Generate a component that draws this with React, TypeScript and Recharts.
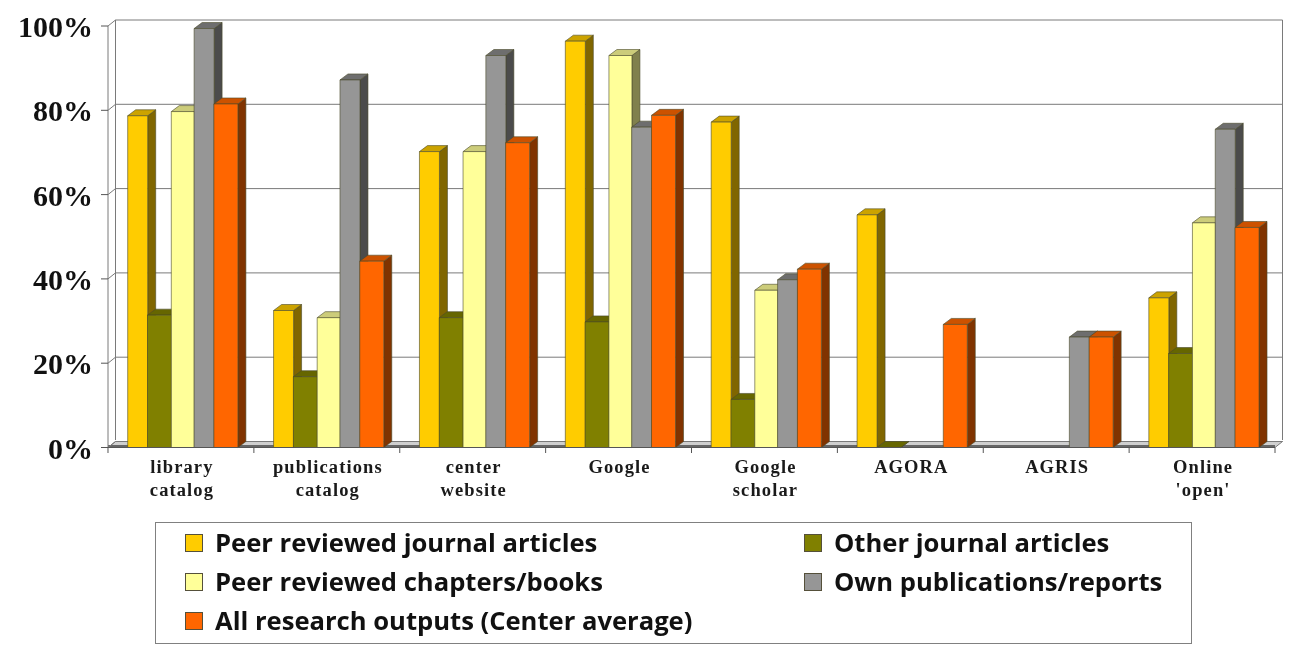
import React from "react";
import { Bar, BarChart, CartesianGrid, Legend, XAxis, YAxis } from "recharts";

const categories = [
  "library\ncatalog",
  "publications\ncatalog",
  "center\nwebsite",
  "Google",
  "Google\nscholar",
  "AGORA",
  "AGRIS",
  "Online\n'open'",
];

// null = no bar drawn at all, 0 = just a flat lid on the floor
const peerArticles = [78.7, 32.5, 70.2, 96.4, 77.2, 55.2, null, 35.5];
const otherArticles = [31.4, 16.8, 30.8, 29.8, 11.4, 0, null, 22.3];
const peerChapters = [79.7, 30.8, 70.2, 93, 37.3, null, null, 53.3];
const ownReports = [99.4, 87.2, 93, 76, 39.8, null, 26.2, 75.5];
const allOutputs = [81.5, 44.2, 72.3, 78.8, 42.3, 29.2, 26.2, 52.2];

const yTicks = [0, 20, 40, 60, 80, 100];

const chartData = categories.map((name, i) => ({
  name,
  peerArticles: peerArticles[i],
  otherArticles: otherArticles[i],
  peerChapters: peerChapters[i],
  ownReports: ownReports[i],
  allOutputs: allOutputs[i],
}));

const DEPTH_X = 7.5;
const DEPTH_Y = 6;
const BAR_DEPTH_X = 8;
const LINE = "#7a7a7a";

const series = [
  { key: "peerArticles", name: "Peer reviewed journal articles", fill: "#ffcc00", top: "#cca300", side: "#806600", nudge: 2.2, width: 20 },
  { key: "otherArticles", name: "Other journal articles", fill: "#808000", top: "#666600", side: "#404000", nudge: 0, width: 24 },
  { key: "peerChapters", name: "Peer reviewed chapters/books", fill: "#ffff99", top: "#cccc7a", side: "#80804d", nudge: 1.8, width: 23 },
  { key: "ownReports", name: "Own publications/reports", fill: "#969696", top: "#6e6e6e", side: "#4b4b4b", nudge: 2.6, width: 20 },
  { key: "allOutputs", name: "All research outputs (Center average)", fill: "#ff6600", top: "#cc5200", side: "#803300", nudge: 0.4, width: 24 },
];

function bar3d(s: (typeof series)[number]) {
  return function Bar3d(props: any) {
    if (props.payload?.[s.key] == null) return null;
    const x = props.x + s.nudge;
    const { y, height } = props;
    const w = s.width;
    const dx = BAR_DEPTH_X;
    const dy = DEPTH_Y;
    return (
      <g stroke="#4a4a2a" strokeWidth={0.6} strokeLinejoin="round">
        <path d={`M${x + w},${y} l${dx},${-dy} v${height} l${-dx},${dy} Z`} fill={s.side} />
        <path d={`M${x},${y} l${dx},${-dy} h${w} l${-dx},${dy} Z`} fill={s.top} />
        {height > 0 && <rect x={x} y={y} width={w} height={height} fill={s.fill} />}
      </g>
    );
  };
}

// one grid line = diagonal on the side wall + line on the back wall
function wallLine(props: any) {
  const { x1, x2, y1 } = props;
  const backY = y1 - DEPTH_Y;
  const isFloor = y1 > 440;
  const isTop = y1 < 40;
  return (
    <g key={props.key} fill="none" stroke={LINE} strokeWidth={1}>
      {isFloor && (
        <path
          d={`M${x1},${y1} L${x1 + DEPTH_X},${backY} H${x2 + DEPTH_X} L${x2},${y1} Z`}
          fill="#cfcfcf"
        />
      )}
      {isFloor && <line x1={x1} x2={x2} y1={y1 - 1} y2={y1 - 1} stroke="#666" strokeWidth={3} />}
      {isTop && (
        <>
          <path d={`M${x1 + DEPTH_X},${backY} V${backY + 420}`} stroke={LINE} />
          <path d={`M${x2 + DEPTH_X},${backY} V${backY + 420}`} stroke={LINE} />
        </>
      )}
      <path d={`M${x1},${y1} L${x1 + DEPTH_X},${backY} H${x2 + DEPTH_X}`} />
    </g>
  );
}

function YTick(props: any) {
  return (
    <text
      x={props.x + 1}
      y={props.y + 11}
      textAnchor="end"
      fontFamily="'Liberation Serif', serif"
      fontWeight={700}
      fontSize={30}
      fill="#111"
    >
      {props.payload.value}%
    </text>
  );
}

function XTick(props: any) {
  const lines = String(props.payload.value).split("\n");
  const band = 145.9;
  const left = props.x - band / 2;
  const right = props.x + band / 2;
  return (
    <g>
      <line x1={right} x2={right} y1={447.5} y2={453} stroke="#555" />
      {props.index === 0 && <line x1={left} x2={left} y1={447.5} y2={453} stroke="#555" />}
      {lines.map((line, i) => (
        <text
          key={line}
          x={props.x + 1}
          y={473 + i * 23}
          textAnchor="middle"
          fontFamily="'Liberation Serif', serif"
          fontWeight={700}
          fontSize={18.5}
          letterSpacing={1.1}
          fill="#1a1a1a"
        >
          {line}
        </text>
      ))}
    </g>
  );
}

function LegendBox({ payload }: any) {
  return (
    <div
      style={{
        boxSizing: "border-box",
        width: 1037,
        height: 122,
        border: "1.5px solid #808080",
        background: "#fff",
        display: "grid",
        gridTemplateColumns: "619px 1fr",
        gridAutoRows: "39px",
        padding: "0 0 0 29px",
        fontFamily: "'Open Sans', sans-serif",
        fontWeight: 700,
        fontSize: 25.6,
        color: "#111",
      }}
    >
      {(payload ?? []).map((item: any) => (
        <div key={item.value} style={{ display: "flex", alignItems: "center" }}>
          <span
            style={{
              boxSizing: "border-box",
              width: 18,
              height: 18,
              marginRight: 12,
              background: item.color,
              border: "1.5px solid #55503a",
            }}
          />
          <span style={{ whiteSpace: "nowrap" }}>{item.value}</span>
        </div>
      ))}
    </div>
  );
}

export default function App() {
  return (
    <div style={{ position: "absolute", left: 0, top: 0, width: 1289, height: 645, background: "#fff", filter: "blur(0.4px)" }}>
      <BarChart
        width={1289}
        height={645}
        data={chartData}
        barGap={0}
        barCategoryGap={17.5}
        margin={{ top: 26, right: 14, bottom: 147.5, left: 0 }}
      >
        <CartesianGrid vertical={false} horizontal={wallLine} syncWithTicks />
        <XAxis
          dataKey="name"
          interval={0}
          height={50}
          tick={XTick}
          tickLine={false}
          axisLine={{ stroke: "#555" }}
        />
        <YAxis
          domain={[0, 100]}
          ticks={yTicks}
          width={108}
          tickSize={7}
          tickMargin={9}
          tick={YTick}
          interval={0}
          axisLine={{ stroke: LINE }}
          tickLine={{ stroke: "#555" }}
        />
        {series.map((s) => (
          <Bar
            key={s.key}
            dataKey={s.key}
            name={s.name}
            fill={s.fill}
            shape={bar3d(s)}
            isAnimationActive={false}
          />
        ))}
        <Legend
          layout="horizontal"
          verticalAlign="middle"
          align="center"
          itemSorter={null}
          content={<LegendBox />}
          wrapperStyle={{ position: "absolute", left: 155, top: 522, width: 1037, height: 122, margin: 0 }}
        />
      </BarChart>
    </div>
  );
}
